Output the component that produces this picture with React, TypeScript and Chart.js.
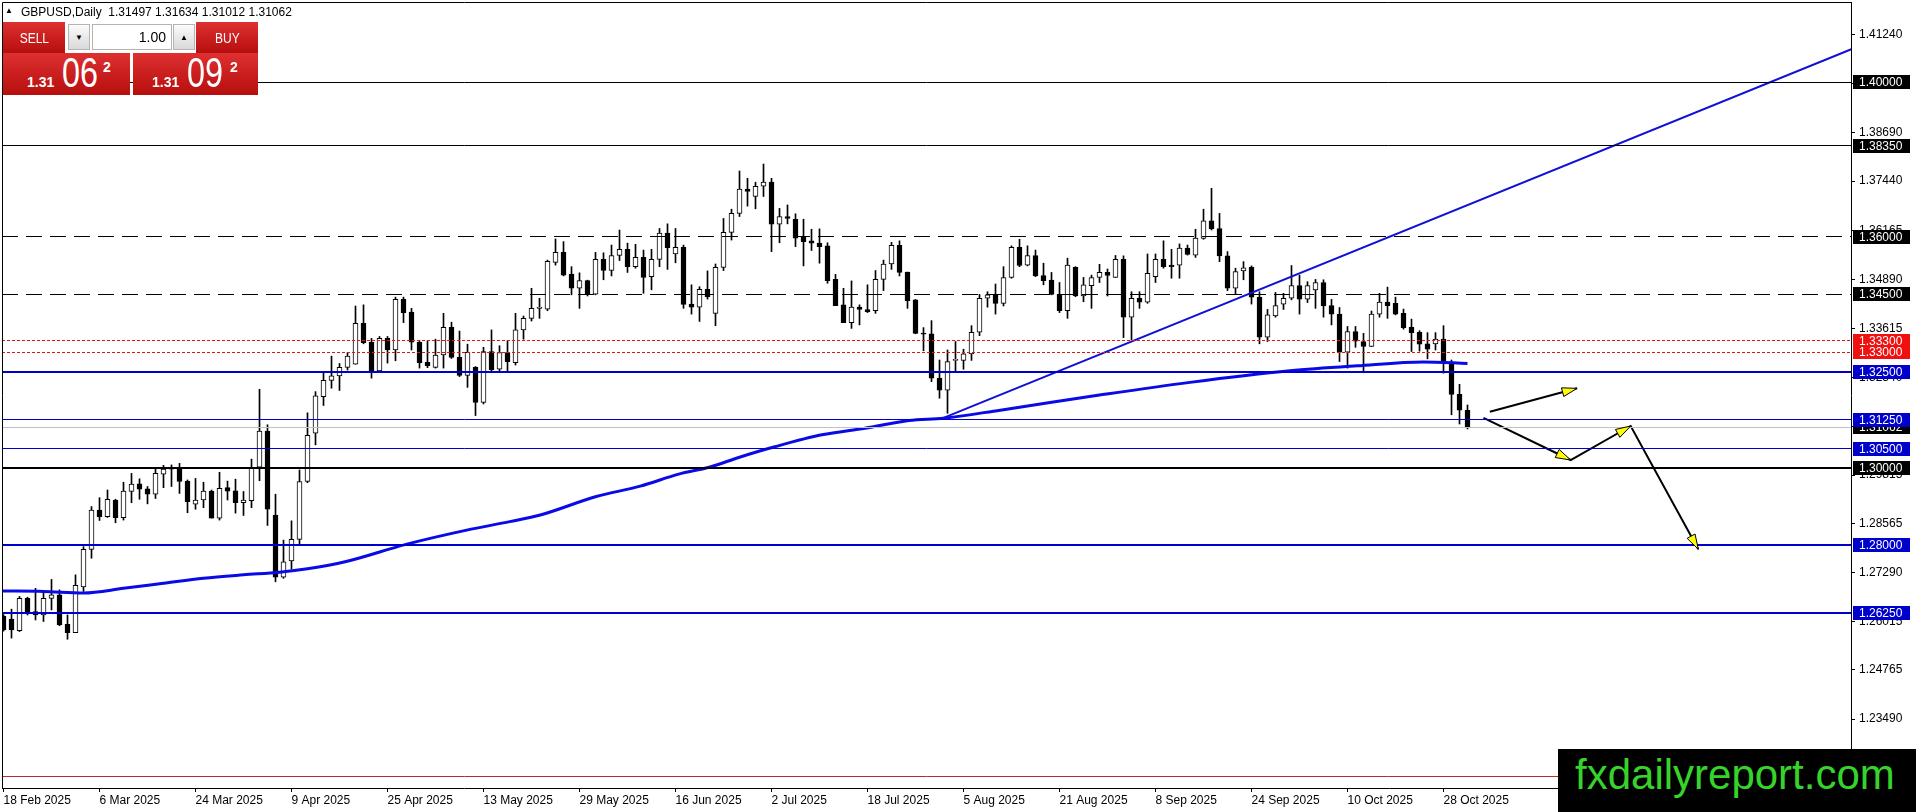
import { useEffect, useRef } from "react";
import { Chart, registerables } from "chart.js";

Chart.register(...registerables);

// ---------------- data ----------------
const OPEN = [
  1.2616, 1.2608, 1.2578, 1.2662, 1.2628, 1.2619, 1.2662, 1.2671, 1.2595, 1.2573,
  1.2692, 1.2789, 1.2891, 1.2874, 1.2917, 1.2871, 1.2939, 1.2959, 1.2946, 1.2932,
  1.2984, 1.2999, 1.2999, 1.2966, 1.2906, 1.2917, 1.2940, 1.2870, 1.2949, 1.2941,
  1.2910, 1.2915, 1.3002, 1.3096, 1.2878, 1.2717, 1.2759, 1.2815, 1.2965, 1.3090,
  1.3185, 1.3227, 1.3239, 1.3261, 1.3269, 1.3375, 1.3326, 1.3252, 1.3336, 1.3306,
  1.3437, 1.3404, 1.3326, 1.3274, 1.3261, 1.3293, 1.3365, 1.3287, 1.3240, 1.3261,
  1.3170, 1.3302, 1.3256, 1.3299, 1.3273, 1.3358, 1.3388, 1.3414, 1.3412, 1.3533,
  1.3559, 1.3503, 1.3466, 1.3486, 1.3451, 1.3541, 1.3512, 1.3551, 1.3567, 1.3522,
  1.3546, 1.3496, 1.3541, 1.3609, 1.3555, 1.3572, 1.3425, 1.3417, 1.3463, 1.3401,
  1.3520, 1.3611, 1.3660, 1.3723, 1.3704, 1.3731, 1.3741, 1.3632, 1.3652, 1.3645,
  1.3600, 1.3589, 1.3583, 1.3576, 1.3489, 1.3423, 1.3377, 1.3417, 1.3411, 1.3408,
  1.3489, 1.3529, 1.3577, 1.3508, 1.3436, 1.3349, 1.3348, 1.3233, 1.3202, 1.3279,
  1.3279, 1.3296, 1.3352, 1.3440, 1.3449, 1.3427, 1.3494, 1.3572, 1.3526, 1.3551,
  1.3499, 1.3487, 1.3450, 1.3408, 1.3520, 1.3446, 1.3473, 1.3494, 1.3507, 1.3494,
  1.3541, 1.3391, 1.3440, 1.3430, 1.3496, 1.3541, 1.3526, 1.3526, 1.3570, 1.3552,
  1.3595, 1.3641, 1.3621, 1.3550, 1.3466, 1.3511, 1.3520, 1.3443, 1.3339, 1.3394,
  1.3425, 1.3440, 1.3473, 1.3438, 1.3462, 1.3481, 1.3421, 1.3399, 1.3300, 1.3354,
  1.3328, 1.3315, 1.3399, 1.3430, 1.3427, 1.3401, 1.3365, 1.3352, 1.3322, 1.3322,
  1.3334, 1.3273, 1.3191, 1.31497,
];
const HIGH = [
  1.2620, 1.2634, 1.2667, 1.2665, 1.2688, 1.2675, 1.2711, 1.2684, 1.2619, 1.2723,
  1.2796, 1.2900, 1.2923, 1.2943, 1.2919, 1.2963, 1.2986, 1.2972, 1.2952, 1.2999,
  1.3007, 1.3008, 1.3012, 1.2969, 1.2973, 1.2963, 1.2943, 1.2989, 1.2966, 1.2971,
  1.2939, 1.3023, 1.3204, 1.3112, 1.2932, 1.2813, 1.2863, 1.2995, 1.3143, 1.3198,
  1.3247, 1.3290, 1.3271, 1.3299, 1.3420, 1.3423, 1.3336, 1.3341, 1.3341, 1.3443,
  1.3443, 1.3414, 1.3330, 1.3330, 1.3334, 1.3401, 1.3378, 1.3355, 1.3321, 1.3263,
  1.3313, 1.3358, 1.3317, 1.3330, 1.3401, 1.3394, 1.3466, 1.3440, 1.3539, 1.3594,
  1.3587, 1.3522, 1.3506, 1.3487, 1.3559, 1.3558, 1.3578, 1.3617, 1.3583, 1.3580,
  1.3565, 1.3567, 1.3621, 1.3633, 1.3621, 1.3578, 1.3475, 1.3470, 1.3511, 1.3529,
  1.3647, 1.3671, 1.3770, 1.3751, 1.3741, 1.3788, 1.3751, 1.3673, 1.3682, 1.3659,
  1.3645, 1.3619, 1.3620, 1.3584, 1.3502, 1.3466, 1.3485, 1.3423, 1.3475, 1.3512,
  1.3539, 1.3585, 1.3589, 1.3508, 1.3437, 1.3364, 1.3382, 1.3280, 1.3306, 1.3328,
  1.3308, 1.3369, 1.3450, 1.3457, 1.3477, 1.3522, 1.3576, 1.3593, 1.3576, 1.3565,
  1.3531, 1.3507, 1.3481, 1.3544, 1.3522, 1.3494, 1.3500, 1.3528, 1.3516, 1.3551,
  1.3550, 1.3457, 1.3457, 1.3555, 1.3555, 1.3589, 1.3567, 1.3581, 1.3578, 1.3619,
  1.3671, 1.3725, 1.3660, 1.3561, 1.3518, 1.3535, 1.3524, 1.3457, 1.3411, 1.3455,
  1.3453, 1.3525, 1.3500, 1.3483, 1.3489, 1.3488, 1.3437, 1.3416, 1.3367, 1.3367,
  1.3349, 1.3407, 1.3453, 1.3469, 1.3443, 1.3412, 1.3386, 1.3356, 1.3351, 1.3351,
  1.3369, 1.3280, 1.3217, 1.31634,
];
const LOW = [
  1.2577, 1.2559, 1.2576, 1.2619, 1.2606, 1.2602, 1.2632, 1.2591, 1.2556, 1.2573,
  1.2680, 1.2766, 1.2864, 1.2872, 1.2858, 1.2865, 1.2910, 1.2919, 1.2907, 1.2921,
  1.2949, 1.2952, 1.2934, 1.2884, 1.2893, 1.2897, 1.2870, 1.2865, 1.2917, 1.2883,
  1.2877, 1.2897, 1.2967, 1.2851, 1.2705, 1.2714, 1.2738, 1.2803, 1.2962, 1.3060,
  1.3162, 1.3207, 1.3201, 1.3254, 1.3269, 1.3322, 1.3233, 1.3250, 1.3272, 1.3278,
  1.3377, 1.3306, 1.3259, 1.3260, 1.3259, 1.3259, 1.3284, 1.3237, 1.3209, 1.3136,
  1.3166, 1.3250, 1.3252, 1.3252, 1.3267, 1.3334, 1.3381, 1.3388, 1.3408, 1.3526,
  1.3498, 1.3449, 1.3414, 1.3446, 1.3449, 1.3488, 1.3498, 1.3538, 1.3507, 1.3518,
  1.3453, 1.3462, 1.3522, 1.3515, 1.3532, 1.3414, 1.3399, 1.3380, 1.3438, 1.3369,
  1.3512, 1.3591, 1.3652, 1.3679, 1.3672, 1.3704, 1.3561, 1.3584, 1.3633, 1.3574,
  1.3524, 1.3564, 1.3531, 1.3479, 1.3421, 1.3377, 1.3362, 1.3371, 1.3403, 1.3401,
  1.3460, 1.3515, 1.3498, 1.3414, 1.3348, 1.3304, 1.3224, 1.3181, 1.3142, 1.3250,
  1.3256, 1.3279, 1.3343, 1.3417, 1.3399, 1.3420, 1.3492, 1.3522, 1.3524, 1.3496,
  1.3475, 1.3449, 1.3403, 1.3388, 1.3444, 1.3431, 1.3414, 1.3481, 1.3446, 1.3494,
  1.3338, 1.3332, 1.3414, 1.3427, 1.3481, 1.3518, 1.3492, 1.3492, 1.3552, 1.3546,
  1.3593, 1.3617, 1.3535, 1.3460, 1.3451, 1.3488, 1.3425, 1.3322, 1.3328, 1.3391,
  1.3411, 1.3436, 1.3399, 1.3429, 1.3414, 1.3391, 1.3371, 1.3276, 1.3259, 1.3313,
  1.3247, 1.3315, 1.3391, 1.3388, 1.3397, 1.3360, 1.3302, 1.3303, 1.3283, 1.3306,
  1.3246, 1.3138, 1.3114, 1.31012,
];
const CLOSE = [
  1.2580, 1.2580, 1.2662, 1.2626, 1.2619, 1.2662, 1.2671, 1.2593, 1.2573, 1.2696,
  1.2789, 1.2891, 1.2874, 1.2919, 1.2871, 1.2940, 1.2958, 1.2945, 1.2932, 1.2986,
  1.2997, 1.2997, 1.2965, 1.2913, 1.2917, 1.2940, 1.2870, 1.2947, 1.2940, 1.2910,
  1.2917, 1.3002, 1.3096, 1.2893, 1.2717, 1.2757, 1.2815, 1.2965, 1.3085, 1.3187,
  1.3227, 1.3239, 1.3261, 1.3290, 1.3375, 1.3325, 1.3252, 1.3336, 1.3306, 1.3437,
  1.3403, 1.3326, 1.3273, 1.3265, 1.3293, 1.3365, 1.3287, 1.3240, 1.3300, 1.3170,
  1.3302, 1.3254, 1.3299, 1.3276, 1.3358, 1.3388, 1.3414, 1.3417, 1.3536, 1.3559,
  1.3500, 1.3466, 1.3486, 1.3451, 1.3541, 1.3512, 1.3551, 1.3567, 1.3522, 1.3546,
  1.3494, 1.3541, 1.3609, 1.3571, 1.3572, 1.3424, 1.3417, 1.3463, 1.3444, 1.3520,
  1.3611, 1.3660, 1.3723, 1.3717, 1.3730, 1.3741, 1.3632, 1.3652, 1.3647, 1.3596,
  1.3587, 1.3583, 1.3574, 1.3486, 1.3421, 1.3377, 1.3417, 1.3411, 1.3405, 1.3489,
  1.3529, 1.3577, 1.3507, 1.3434, 1.3349, 1.3347, 1.3233, 1.3202, 1.3276, 1.3282,
  1.3296, 1.3352, 1.3440, 1.3449, 1.3427, 1.3494, 1.3572, 1.3525, 1.3551, 1.3498,
  1.3486, 1.3450, 1.3408, 1.3526, 1.3446, 1.3475, 1.3494, 1.3507, 1.3499, 1.3541,
  1.3391, 1.3440, 1.3430, 1.3505, 1.3541, 1.3522, 1.3522, 1.3570, 1.3554, 1.3596,
  1.3641, 1.3620, 1.3550, 1.3466, 1.3509, 1.3519, 1.3443, 1.3339, 1.3397, 1.3421,
  1.3440, 1.3473, 1.3438, 1.3473, 1.3481, 1.3420, 1.3399, 1.3300, 1.3354, 1.3329,
  1.3315, 1.3399, 1.3430, 1.3421, 1.3399, 1.3364, 1.3351, 1.3321, 1.3308, 1.3334,
  1.3273, 1.3191, 1.3150, 1.31062,
];

const DATE_TICK_INDEX = [0, 12, 24, 36, 48, 60, 72, 84, 96, 108, 120, 132, 144, 156, 168, 180];
const DATE_TICK_LABELS = [
  "18 Feb 2025", "6 Mar 2025", "24 Mar 2025", "9 Apr 2025", "25 Apr 2025", "13 May 2025",
  "29 May 2025", "16 Jun 2025", "2 Jul 2025", "18 Jul 2025", "5 Aug 2025", "21 Aug 2025",
  "8 Sep 2025", "24 Sep 2025", "10 Oct 2025", "28 Oct 2025",
];
const PRICE_TICKS = [
  1.4124, 1.39965, 1.3869, 1.3744, 1.36165, 1.3489, 1.33615, 1.3234, 1.31065,
  1.29815, 1.28565, 1.2729, 1.26015, 1.24765, 1.2349,
];

// moving average
const MA_INDEX = [-0.19, 5, 10, 15, 20, 25, 30, 34.5, 38, 42.7, 50.3, 57.9, 63.3, 67.1, 74.1, 79.6, 84.4, 88.2, 92, 96.4, 102.3, 107.7, 113.2, 117.5, 124.6, 137, 148.3, 160.8, 169.2, 177.5, 183];
const MA_VALUE = [1.2681, 1.268, 1.2676, 1.2688, 1.2701, 1.2714, 1.2723, 1.273, 1.2739, 1.2757, 1.2802, 1.2839, 1.2861, 1.2878, 1.2926, 1.2953, 1.2984, 1.3002, 1.3028, 1.3055, 1.3086, 1.3103, 1.3123, 1.3129, 1.315, 1.3189, 1.3222, 1.3252, 1.3265, 1.3275, 1.3271];

// trend line
const TREND_INDEX = [117.5, 231.5];
const TREND_VALUE = [1.313, 1.4090];

// projected path arrows
const ARROW_A_INDEX = [185.8, 196.7];
const ARROW_A_VALUE = [1.3146, 1.32066];
const ARROW_B_INDEX = [185.0, 195.9, 203.4, 211.85];
const ARROW_B_VALUE = [1.313, 1.30207, 1.31089, 1.27892];

// horizontal levels
const LEVEL_VALUES = [1.4, 1.3835, 1.36, 1.345, 1.333, 1.33, 1.325, 1.3125, 1.31062, 1.305, 1.3, 1.28, 1.2625, 1.22];
const BID_VALUE = 1.31062;

// ---------------- styles ----------------
const BLUE = "#0000cd";
const LEVEL_STYLE: { color: string; width: number; dash: number[]; box: string | null }[] = [
  { color: "#000", width: 1, dash: [], box: "#000" },
  { color: "#000", width: 1, dash: [], box: "#000" },
  { color: "#000", width: 1, dash: [16, 8], box: "#000" },
  { color: "#000", width: 1, dash: [16, 8], box: "#000" },
  { color: "#e01414", width: 1, dash: [3, 2], box: "#f01010" },
  { color: "#e01414", width: 1, dash: [3, 2], box: "#f01010" },
  { color: BLUE, width: 2, dash: [], box: BLUE },
  { color: BLUE, width: 1, dash: [], box: BLUE },
  { color: "#c0c0c0", width: 1, dash: [], box: "#000" },
  { color: BLUE, width: 1, dash: [], box: BLUE },
  { color: "#000", width: 2, dash: [], box: "#000" },
  { color: BLUE, width: 2, dash: [], box: BLUE },
  { color: BLUE, width: 2, dash: [], box: BLUE },
  { color: "#c02828", width: 1, dash: [], box: null },
];

const X_MIN = -0.1875;
const X_MAX = 230.9375;
const Y_MAX = 1.3 + 466 / 3857;
const Y_MIN = 1.3 - 320 / 3857;
const FONT = '"Liberation Sans", Arial, sans-serif';

function drawArrowHead(ctx: CanvasRenderingContext2D, x0: number, y0: number, x1: number, y1: number) {
  const ang = Math.atan2(y1 - y0, x1 - x0);
  const len = 15;
  const hw = 4.5;
  const bx = x1 - Math.cos(ang) * len;
  const by = y1 - Math.sin(ang) * len;
  const px = -Math.sin(ang) * hw;
  const py = Math.cos(ang) * hw;
  ctx.beginPath();
  ctx.moveTo(x1, y1);
  ctx.lineTo(bx + px, by + py);
  ctx.lineTo(bx - px, by - py);
  ctx.closePath();
  ctx.fillStyle = "#ffff00";
  ctx.fill();
  ctx.lineWidth = 1;
  ctx.strokeStyle = "#000";
  ctx.stroke();
}

const overlayPlugin = {
  id: "mtOverlay",
  afterDatasetsDraw(chart: any) {
    const { ctx, chartArea: a, scales } = chart;
    const x = scales.x;
    const y = scales.y;
    ctx.save();
    ctx.beginPath();
    ctx.rect(a.left, a.top, a.right - a.left, a.bottom - a.top);
    ctx.clip();
    LEVEL_VALUES.forEach((v, k) => {
      const st = LEVEL_STYLE[k];
      const p = y.getPixelForValue(v);
      const yy = st.width % 2 === 1 ? Math.round(p - 0.5) + 0.5 : Math.round(p);
      ctx.beginPath();
      ctx.setLineDash(st.dash);
      ctx.strokeStyle = st.color;
      ctx.lineWidth = st.width;
      ctx.moveTo(a.left, yy);
      ctx.lineTo(a.right, yy);
      ctx.stroke();
    });
    ctx.setLineDash([]);
    const pa = ARROW_A_INDEX.map((xi, k) => [x.getPixelForValue(xi), y.getPixelForValue(ARROW_A_VALUE[k])]);
    drawArrowHead(ctx, pa[0][0], pa[0][1], pa[1][0], pa[1][1]);
    const pb = ARROW_B_INDEX.map((xi, k) => [x.getPixelForValue(xi), y.getPixelForValue(ARROW_B_VALUE[k])]);
    for (let k = 1; k < pb.length; k++) drawArrowHead(ctx, pb[k - 1][0], pb[k - 1][1], pb[k][0], pb[k][1]);
    ctx.restore();
  },
  afterDraw(chart: any) {
    const { ctx, chartArea: a, scales } = chart;
    const y = scales.y;
    ctx.save();
    // frame top / left
    ctx.strokeStyle = "#000";
    ctx.lineWidth = 1;
    ctx.beginPath();
    ctx.moveTo(a.left + 0.5, a.bottom);
    ctx.lineTo(a.left + 0.5, a.top + 0.5);
    ctx.lineTo(a.right, a.top + 0.5);
    ctx.stroke();
    // level price labels on the axis
    const order = LEVEL_VALUES.map((v, k) => k).sort((i, j) => (LEVEL_VALUES[i] === BID_VALUE ? -1 : LEVEL_VALUES[j] === BID_VALUE ? 1 : 0));
    ctx.font = `12px ${FONT}`;
    ctx.textBaseline = "middle";
    ctx.textAlign = "left";
    order.forEach((k) => {
      const st = LEVEL_STYLE[k];
      if (!st.box) return;
      const v = LEVEL_VALUES[k];
      const p = Math.round(y.getPixelForValue(v));
      ctx.fillStyle = st.box;
      ctx.fillRect(y.left + 2, p - 7, 57, 14);
      ctx.fillStyle = "#fff";
      ctx.fillText(v.toFixed(5), y.left + 8, p + 0.5);
    });
    ctx.restore();
  },
};

function CandleChart() {
  const ref = useRef<HTMLCanvasElement | null>(null);
  useEffect(() => {
    if (!ref.current) return;
    const bodyData = OPEN.map((o, i) => ({ x: i, y: [o, CLOSE[i]] }));
    const wickData = LOW.map((l, i) => ({ x: i, y: [l, HIGH[i]] }));
    const chart = new Chart(ref.current, {
      type: "bar",
      data: {
        datasets: [
          {
            type: "line",
            label: "trend",
            data: TREND_INDEX.map((xi, k) => ({ x: xi, y: TREND_VALUE[k] })),
            borderColor: "#1010d6",
            borderWidth: 2,
            pointRadius: 0,
            order: 0,
          },
          {
            type: "line",
            label: "pathA",
            data: ARROW_A_INDEX.map((xi, k) => ({ x: xi, y: ARROW_A_VALUE[k] })),
            borderColor: "#000",
            borderWidth: 2,
            pointRadius: 0,
            order: 0,
          },
          {
            type: "line",
            label: "pathB",
            data: ARROW_B_INDEX.map((xi, k) => ({ x: xi, y: ARROW_B_VALUE[k] })),
            borderColor: "#000",
            borderWidth: 2,
            pointRadius: 0,
            order: 0,
          },
          {
            type: "line",
            label: "MA",
            data: MA_INDEX.map((xi, k) => ({ x: xi, y: MA_VALUE[k] })),
            borderColor: "#0a0ae6",
            borderWidth: 3,
            pointRadius: 0,
            cubicInterpolationMode: "monotone",
            order: 1,
          },
          {
            type: "bar",
            label: "body",
            data: bodyData as any,
            backgroundColor: (c: any) => (CLOSE[c.dataIndex] >= OPEN[c.dataIndex] ? "#ffffff" : "#000000"),
            borderColor: "#000",
            borderWidth: 1,
            borderSkipped: false,
            barThickness: 5,
            minBarLength: 1,
            grouped: false,
            order: 2,
          },
          {
            type: "bar",
            label: "wick",
            data: wickData as any,
            backgroundColor: "#000",
            borderWidth: 0,
            barThickness: 1,
            grouped: false,
            order: 3,
          },
        ] as any,
      },
      options: {
        responsive: false,
        animation: false,
        devicePixelRatio: 1,
        layout: { padding: { left: 2, top: 2, right: 0, bottom: 0 } },
        plugins: { legend: { display: false }, tooltip: { enabled: false } },
        events: [],
        scales: {
          x: {
            type: "linear",
            min: X_MIN,
            max: X_MAX,
            offset: false,
            grid: { display: true, drawOnChartArea: false, drawTicks: true, tickLength: 4, color: "#000", offset: false },
            border: { display: true, color: "#000", width: 1 },
            ticks: {
              align: "start",
              autoSkip: false,
              maxRotation: 0,
              minRotation: 0,
              padding: 1,
              color: "#000",
              font: { family: FONT, size: 12 },
              callback: (v: any) => {
                const k = DATE_TICK_INDEX.indexOf(Number(v));
                return k >= 0 ? DATE_TICK_LABELS[k] : "";
              },
            },
            afterBuildTicks: (s: any) => {
              s.ticks = DATE_TICK_INDEX.map((v) => ({ value: v }));
            },
            afterFit: (s: any) => {
              s.height = 24;
              s.paddingLeft = 0;
              s.paddingRight = 0;
            },
          },
          y: {
            type: "linear",
            position: "right",
            min: Y_MIN,
            max: Y_MAX,
            beginAtZero: false,
            grid: { display: true, drawOnChartArea: false, drawTicks: true, tickLength: 4, color: "#000" },
            border: { display: true, color: "#000", width: 1 },
            ticks: {
              padding: 4,
              color: "#000",
              font: { family: FONT, size: 12 },
              callback: (v: any) => Number(v).toFixed(5),
            },
            afterBuildTicks: (s: any) => {
              s.ticks = PRICE_TICKS.map((v) => ({ value: v }));
            },
            afterFit: (s: any) => {
              s.width = 65;
              s.paddingTop = 0;
              s.paddingBottom = 0;
            },
          },
        },
      } as any,
      plugins: [overlayPlugin],
    });
    return () => chart.destroy();
  }, []);
  return <canvas ref={ref} width={1916} height={812} style={{ display: "block", width: 1916, height: 812 }} />;
}

const RED = "linear-gradient(#df3030, #b60e0e)";
const BTN_GRAY = "linear-gradient(#fbfbfb, #d9d9d9)";

function PriceBlock({ left, width, big, offs }: { left: number; width: number; big: string; offs: number[] }) {
  return (
    <div style={{ position: "absolute", left, top: 53, width, height: 42, background: RED, color: "#fff", overflow: "hidden" }}>
      <span style={{ position: "absolute", left: offs[0], top: 22, font: `bold 14px ${FONT}`, lineHeight: "14px" }}>1.31</span>
      <span style={{ position: "absolute", left: offs[1], top: -1.5, font: `42px ${FONT}`, lineHeight: "42px", transform: "scaleX(0.77)", transformOrigin: "left top" }}>{big}</span>
      <span style={{ position: "absolute", left: offs[2], top: 7, font: `bold 14px ${FONT}`, lineHeight: "14px" }}>2</span>
    </div>
  );
}

export default function App() {
  const hdr = `GBPUSD,Daily  ${OPEN[OPEN.length - 1].toFixed(5)} ${HIGH[HIGH.length - 1].toFixed(5)} ${LOW[LOW.length - 1].toFixed(5)} ${CLOSE[CLOSE.length - 1].toFixed(5)}`;
  return (
    <div style={{ position: "fixed", left: 0, top: 0, width: 1916, height: 812, background: "#fff", overflow: "hidden" }}>
      <CandleChart />
      {/* header */}
      <div style={{ position: "absolute", left: 5, top: 6, font: `8px ${FONT}`, lineHeight: "10px", color: "#000" }}>▲</div>
      <div style={{ position: "absolute", left: 21, top: 5, font: `12px ${FONT}`, lineHeight: "14px", color: "#000", whiteSpace: "pre" }}>{hdr}</div>
      {/* one click trading panel */}
      <div style={{ position: "absolute", left: 3, top: 22, width: 62, height: 31, background: RED, color: "#fff", display: "flex", alignItems: "center", justifyContent: "center" }}>
        <span style={{ font: `15px ${FONT}`, transform: "scaleX(0.8)" }}>SELL</span>
      </div>
      <div style={{ position: "absolute", left: 68, top: 24, width: 20, height: 24, background: BTN_GRAY, border: "1px solid #b4b4b4", display: "flex", alignItems: "center", justifyContent: "center", font: `8px ${FONT}`, color: "#000" }}>▼</div>
      <div style={{ position: "absolute", left: 92, top: 24, width: 73, height: 24, background: "#fff", border: "1px solid #b4b4b4", paddingRight: 5, textAlign: "right", font: `14px ${FONT}`, lineHeight: "24px", color: "#000" }}>1.00</div>
      <div style={{ position: "absolute", left: 173, top: 24, width: 20, height: 24, background: BTN_GRAY, border: "1px solid #b4b4b4", display: "flex", alignItems: "center", justifyContent: "center", font: `8px ${FONT}`, color: "#000" }}>▲</div>
      <div style={{ position: "absolute", left: 196, top: 22, width: 62, height: 31, background: RED, color: "#fff", display: "flex", alignItems: "center", justifyContent: "center" }}>
        <span style={{ font: `15px ${FONT}`, transform: "scaleX(0.8)" }}>BUY</span>
      </div>
      <PriceBlock left={3} width={127} big="06" offs={[24, 59, 100]} />
      <PriceBlock left={133} width={125} big="09" offs={[19, 54, 97]} />
      {/* watermark */}
      <div style={{ position: "absolute", left: 1558, top: 749, width: 358, height: 63, background: "#000" }}>
        <span style={{ position: "absolute", left: 17, top: 2, font: `42px ${FONT}`, color: "#36d42a", whiteSpace: "nowrap" }}>fxdailyreport.com</span>
      </div>
    </div>
  );
}
